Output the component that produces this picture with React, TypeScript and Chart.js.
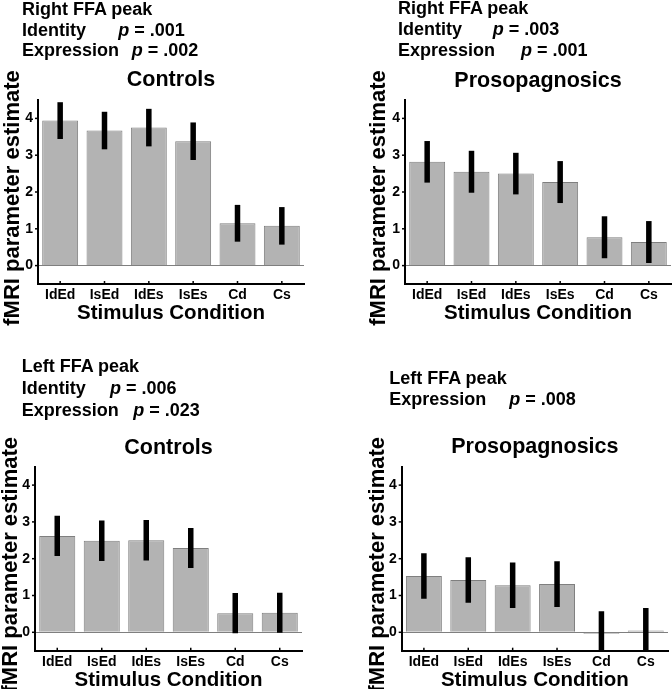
import React, { useEffect, useRef } from 'react';
import { Chart, registerables } from 'chart.js';

Chart.register(...registerables);

// ---------- data ----------
const categories = ['IdEd', 'IsEd', 'IdEs', 'IsEs', 'Cd', 'Cs'];
const yTickValues = [0, 1, 2, 3, 4];
const yMin = -0.5;
const yMax = 4.5;

const rightControlsMean = [3.94, 3.67, 3.75, 3.38, 1.15, 1.08];
const rightControlsErr = [0.5, 0.51, 0.51, 0.51, 0.5, 0.51];
const rightProsopMean = [2.82, 2.55, 2.5, 2.27, 0.77, 0.64];
const rightProsopErr = [0.565, 0.57, 0.565, 0.57, 0.57, 0.57];
const leftControlsMean = [2.62, 2.49, 2.5, 2.29, 0.52, 0.53];
const leftControlsErr = [0.545, 0.55, 0.55, 0.545, 0.545, 0.545];
const leftProsopMean = [1.53, 1.42, 1.28, 1.31, -0.04, 0.05];
const leftProsopErr = [0.62, 0.62, 0.62, 0.62, 0.61, 0.61];

const groupTitles = ['Controls', 'Prosopagnosics'];
const regionTitles = ['Right FFA peak', 'Left FFA peak'];
const rightControlsStats = [['Identity', '.001'], ['Expression', '.002']];
const rightProsopStats = [['Identity', '.003'], ['Expression', '.001']];
const leftControlsStats = [['Identity', '.006'], ['Expression', '.023']];
const leftProsopStats = [['Expression', '.008']];
const xAxisTitle = 'Stimulus Condition';
const yAxisTitle = 'fMRI parameter estimate';

// ---------- style / layout ----------
const FONT = '"Liberation Sans", Arial, Helvetica, sans-serif';
const CW = 336;
const CH = 350;
const TITLE_SIZE = 21.5;
const X_AXIS_H = 42;
const BAR_FILL = '#b3b3b3';
const BAR_EDGE = '#7f7f7f';

Chart.defaults.font.family = FONT;
Chart.defaults.font.size = 14;
Chart.defaults.font.weight = 'bold' as any;
Chart.defaults.color = '#000';

type Layout = {
  left: number; top: number;
  areaLeft: number; areaRight: number; areaTop: number; areaBottom: number;
  titleMid: number; yTitleX: number;
  headX: number; baselines: number[]; pX: number[];
};

const panels = [
  {
    mean: rightControlsMean, err: rightControlsErr, title: groupTitles[0],
    region: regionTitles[0], stats: rightControlsStats,
    layout: { left: 0, top: 0, areaLeft: 38, areaRight: 304, areaTop: 100, areaBottom: 284,
      titleMid: 80, yTitleX: 13.4, headX: 22, baselines: [14.8, 36, 56.7], pX: [118.3, 131.7] } as Layout,
  },
  {
    mean: rightProsopMean, err: rightProsopErr, title: groupTitles[1],
    region: regionTitles[0], stats: rightProsopStats,
    layout: { left: 336, top: 0, areaLeft: 405, areaRight: 671, areaTop: 100, areaBottom: 284,
      titleMid: 81, yTitleX: 379, headX: 398, baselines: [14, 35.5, 56.7], pX: [492.7, 521] } as Layout,
  },
  {
    mean: leftControlsMean, err: leftControlsErr, title: groupTitles[0],
    region: regionTitles[1], stats: leftControlsStats,
    layout: { left: 0, top: 345, areaLeft: 35, areaRight: 302, areaTop: 466.7, areaBottom: 650.7,
      titleMid: 448.3, yTitleX: 10.7, headX: 21.7, baselines: [372.5, 394, 416], pX: [110, 133.3] } as Layout,
  },
  {
    mean: leftProsopMean, err: leftProsopErr, title: groupTitles[1],
    region: regionTitles[1], stats: leftProsopStats,
    layout: { left: 336, top: 345, areaLeft: 401.7, areaRight: 668, areaTop: 466.7, areaBottom: 650.7,
      titleMid: 447.5, yTitleX: 378.4, headX: 389.3, baselines: [384.3, 405.7], pX: [509.3] } as Layout,
  },
];

const tickFont = { family: FONT, size: 14, weight: 'bold' as const };

function Panel({ mean, err, title, layout }: { mean: number[]; err: number[]; title: string; layout: Layout }) {
  const ref = useRef<HTMLCanvasElement | null>(null);

  useEffect(() => {
    if (!ref.current) return;
    const L = layout;
    const titleLH = 1.2 * TITLE_SIZE;
    const yAxisW = L.areaLeft - L.left;
    const padRight = L.left + CW - L.areaRight;
    const padTop = L.titleMid - L.top - titleLH / 2;
    const titlePadBottom = L.areaTop - L.titleMid - titleLH / 2;
    const padBottom = CH - (L.areaBottom - L.top) - X_AXIS_H;

    const overlay = {
      id: 'overlay',
      afterDatasetsDraw(chart: any) {
        const { ctx, chartArea, scales } = chart;
        const meta = chart.getDatasetMeta(0);
        ctx.save();
        ctx.beginPath();
        ctx.rect(chartArea.left, chartArea.top, chartArea.right - chartArea.left, chartArea.bottom - chartArea.top);
        ctx.clip();
        ctx.strokeStyle = '#000';
        ctx.lineWidth = 5.5;
        ctx.lineCap = 'butt';
        meta.data.forEach((bar: any, i: number) => {
          const hi = scales.y.getPixelForValue(mean[i] + err[i]);
          const lo = scales.y.getPixelForValue(mean[i] - err[i]);
          ctx.beginPath();
          ctx.moveTo(bar.x, hi);
          ctx.lineTo(bar.x, lo);
          ctx.stroke();
        });
        ctx.restore();
      },
      afterDraw(chart: any) {
        const { ctx, chartArea, scales } = chart;
        ctx.save();
        ctx.strokeStyle = '#000';
        ctx.lineWidth = 1.5;
        categories.forEach((_c, i) => {
          const px = scales.x.getPixelForValue(i);
          ctx.beginPath();
          ctx.moveTo(px, chartArea.bottom);
          ctx.lineTo(px, chartArea.bottom - 3);
          ctx.stroke();
        });
        yTickValues.forEach((v) => {
          const py = scales.y.getPixelForValue(v);
          ctx.beginPath();
          ctx.moveTo(chartArea.left - 3, py);
          ctx.lineTo(chartArea.left, py);
          ctx.stroke();
        });
        ctx.translate(L.yTitleX - L.left, (chartArea.top + chartArea.bottom) / 2 + 6);
        ctx.rotate(-Math.PI / 2);
        ctx.fillStyle = '#000';
        ctx.font = `bold 22px ${FONT}`;
        ctx.textAlign = 'center';
        ctx.textBaseline = 'middle';
        ctx.fillText(yAxisTitle, 0, 0);
        ctx.restore();
      },
    };

    const chart = new Chart(ref.current, {
      type: 'bar',
      data: {
        labels: categories,
        datasets: [
          {
            data: mean,
            backgroundColor: BAR_FILL,
            borderColor: BAR_EDGE,
            borderWidth: 1,
            barPercentage: 1,
            categoryPercentage: 0.81,
          },
        ],
      },
      options: {
        animation: false,
        responsive: false,
        maintainAspectRatio: false,
        devicePixelRatio: 1,
        layout: { padding: { left: 0, right: padRight, top: padTop, bottom: padBottom } },
        plugins: {
          legend: { display: false },
          tooltip: { enabled: false },
          title: {
            display: true,
            text: title,
            fullSize: false,
            color: '#000',
            font: { family: FONT, size: TITLE_SIZE, weight: 'bold' },
            padding: { top: 0, bottom: titlePadBottom },
          },
        },
        scales: {
          x: {
            type: 'category',
            grid: { display: false, drawTicks: false, tickLength: 0 },
            border: { display: true, color: '#000', width: 2 },
            ticks: { color: '#000', font: tickFont, padding: 3, maxRotation: 0, autoSkip: false },
            title: {
              display: true,
              text: xAxisTitle,
              color: '#000',
              font: { family: FONT, size: 20.5, weight: 'bold' },
              padding: { top: 0, bottom: 0 },
            },
            afterFit: (s: any) => { s.height = X_AXIS_H; },
          },
          y: {
            type: 'linear',
            min: yMin,
            max: yMax,
            afterBuildTicks: (s: any) => { s.ticks = yTickValues.map((v) => ({ value: v })); },
            afterFit: (s: any) => { s.width = yAxisW; },
            grid: {
              drawTicks: false,
              tickLength: 0,
              lineWidth: 1,
              color: (c: any) => (c.tick && c.tick.value === 0 ? '#7f7f7f' : 'rgba(0,0,0,0)'),
            },
            border: { display: true, color: '#000', width: 2 },
            ticks: { color: '#000', font: tickFont, padding: 5 },
          },
        },
      },
      plugins: [overlay],
    } as any);

    return () => chart.destroy();
  }, [mean, err, title, layout]);

  return (
    <canvas
      ref={ref}
      width={CW}
      height={CH}
      style={{ position: 'absolute', left: layout.left, top: layout.top, width: CW, height: CH }}
    />
  );
}

const HEAD_SIZE = 18;
const BASE_OFF = 15.24; // baseline offset from top for 18px font with 18px line-height

function Header({ region, stats, layout }: { region: string; stats: string[][]; layout: Layout }) {
  const common: React.CSSProperties = {
    position: 'absolute',
    fontFamily: FONT,
    fontWeight: 'bold',
    fontSize: HEAD_SIZE,
    lineHeight: `${HEAD_SIZE}px`,
    whiteSpace: 'nowrap',
    color: '#000',
  };
  return (
    <>
      <div style={{ ...common, left: layout.headX, top: layout.baselines[0] - BASE_OFF }}>{region}</div>
      {stats.map((row, i) => (
        <React.Fragment key={i}>
          <div style={{ ...common, left: layout.headX, top: layout.baselines[i + 1] - BASE_OFF }}>{row[0]}</div>
          <div style={{ ...common, left: layout.pX[i], top: layout.baselines[i + 1] - BASE_OFF }}>
            <i>p</i> = {row[1]}
          </div>
        </React.Fragment>
      ))}
    </>
  );
}

export default function App() {
  return (
    <div
      style={{
        position: 'absolute',
        left: 0,
        top: 0,
        width: 672,
        height: 689,
        overflow: 'hidden',
        background: '#fff',
      }}
    >
      {panels.map((p, i) => (
        <Panel key={i} mean={p.mean} err={p.err} title={p.title} layout={p.layout} />
      ))}
      {panels.map((p, i) => (
        <Header key={'h' + i} region={p.region} stats={p.stats} layout={p.layout} />
      ))}
    </div>
  );
}
